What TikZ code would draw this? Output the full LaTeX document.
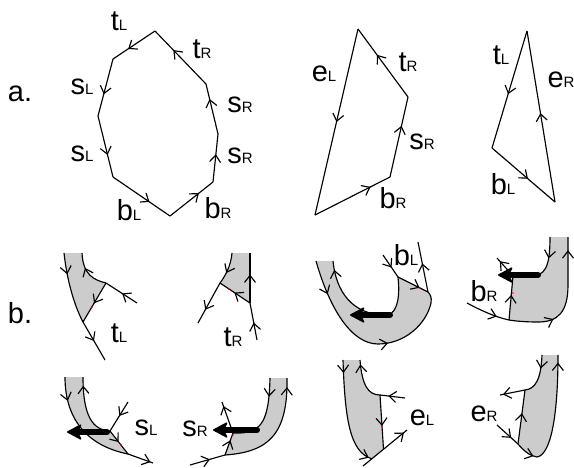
\documentclass[tikz,border=0pt]{standalone}
\usepackage{fontspec}
\setmainfont{Liberation Sans}
\usetikzlibrary{arrows.meta,decorations.markings,calc}
\definecolor{shade}{RGB}{204,204,204}
\newcommand\lb[2]{#1{\fontsize{15}{15}\selectfont #2}}
\begin{document}
\begin{tikzpicture}[x=1pt,y=-1pt,line width=1.15pt,line join=round,
  tipb/.tip={Straight Barb[length=7pt,width=11pt]},
  marr/.style={postaction={decorate,decoration={markings,mark=at position #1 with {\arrow{tipb}}}}},
  rarr/.style={postaction={decorate,decoration={markings,mark=at position #1 with {\arrowreversed{tipb}}}}},
  band/.style={fill=shade,draw=none},
  thk/.style={line width=6pt,line cap=round,-{Stealth[length=16pt,width=17pt,inset=4pt,round,line width=1.5pt]}},
  lab/.style={inner sep=0pt,font=\fontsize{29}{29}\selectfont},
  rdot/.style={fill=red,draw=none}]
\useasboundingbox (0,0) rectangle (574,467);

% ---------- panel a ----------
\node[lab] (pa) at (20,94) {a.};
\coordinate (o1) at (155,31);
\coordinate (o2) at (113,59);
\coordinate (o3) at (98,116);
\coordinate (o4) at (113,177);
\coordinate (o5) at (170,216);
\coordinate (o6) at (213,182);
\coordinate (o7) at (218,134);
\coordinate (o8) at (206,84);
\draw[marr=0.64] (o1) -- (o2);
\draw[marr=0.62] (o2) -- (o3);
\draw[marr=0.64] (o3) -- (o4);
\draw[marr=0.64] (o4) -- (o5);
\draw[marr=0.67] (o5) -- (o6);
\draw[marr=0.58] (o6) -- (o7);
\draw[marr=0.7] (o7) -- (o8);
\draw[marr=0.64] (o8) -- (o1);
\node[lab] (a1) at (119,21.5) {\lb{t}{L}};
\node[lab] (a2) at (202,49) {\lb{t}{R}};
\node[lab] (a3) at (82,87) {\lb{s}{L}};
\node[lab] (a4) at (240,105) {\lb{s}{R}};
\node[lab] (a5) at (82,154) {\lb{s}{L}};
\node[lab] (a6) at (240,156) {\lb{s}{R}};
\node[lab] (a7) at (129,210) {\lb{b}{L}};
\node[lab] (a8) at (218,208) {\lb{b}{R}};

\coordinate (m1) at (358,29);
\coordinate (m2) at (408,97);
\coordinate (m3) at (390,177);
\coordinate (m4) at (315,215);
\draw[marr=0.5] (m1) -- (m4);
\draw[marr=0.74] (m4) -- (m3);
\draw[marr=0.64] (m3) -- (m2);
\draw[marr=0.62] (m2) -- (m1);
\node[lab] (a9) at (324,74) {\lb{e}{L}};
\node[lab] (a10) at (408,62) {\lb{t}{R}};
\node[lab] (a11) at (422,142) {\lb{s}{R}};
\node[lab] (a12) at (393,198) {\lb{b}{R}};

\coordinate (r1) at (527,31);
\coordinate (r2) at (492,148);
\coordinate (r3) at (555,202);
\draw[marr=0.54] (r1) -- (r2);
\draw[marr=0.57] (r2) -- (r3);
\draw[marr=0.52] (r3) -- (r1);
\node[lab] (a13) at (501,55) {\lb{t}{L}};
\node[lab] (a14) at (561,80) {\lb{e}{R}};
\node[lab] (a15) at (503,184) {\lb{b}{L}};

% ---------- panel b ----------
\node[lab] (pb) at (20,313) {b.};

% t_L
\coordinate (tlA) at (64,253);
\coordinate (tlB) at (82,253);
\coordinate (tlJ) at (106,283);
\coordinate (tlK) at (83,322);
\coordinate (tlE1) at (137,303);
\coordinate (tlE2) at (105,360);
\fill[band] (tlA) -- (tlB) .. controls (83,275) and (94,280) .. (tlJ) -- (tlK) .. controls (74,305) and (67,280) .. (tlA) -- cycle;
\draw[marr=0.3] (tlA) .. controls (67,280) and (74,305) .. (tlK);
\draw[marr=0.64] (tlJ) .. controls (94,280) and (83,275) .. (tlB);
\draw[marr=0.48] (tlE1) -- (tlJ);
\draw[marr=0.52] (tlJ) -- (tlK);
\draw[marr=0.5] (tlK) -- (tlE2);
\fill[rdot] (92,307) circle (0.8);
\node[lab] (b1) at (119,333) {\lb{t}{L}};

% t_R
\coordinate (trA) at (232,253);
\coordinate (trB) at (250,253);
\coordinate (trJ) at (220,283);
\coordinate (trK) at (250,303);
\coordinate (trE1) at (198,323);
\coordinate (trE2) at (257,340);
\fill[band] (trA) -- (trB) -- (trK) -- (trJ) .. controls (226,275) and (231,265) .. (trA) -- cycle;
\draw[marr=0.64] (trA) .. controls (231,265) and (226,275) .. (trJ);
\draw[marr=0.67] (trJ) -- (trE1);
\draw[marr=0.57] (trK) -- (trB);
\draw[marr=0.52] (trK) -- (trJ);
\draw[marr=0.47] (trE2) -- (trK);
\fill[rdot] (229,289) circle (0.8);
\node[lab] (b2) at (233,337) {\lb{t}{R}};

% s_L
\coordinate (slA) at (65,377);
\coordinate (slB) at (83,377);
\coordinate (slJ) at (110,431);
\coordinate (slK) at (128,454);
\coordinate (slE1) at (128,402);
\coordinate (slE2) at (153,463);
\fill[band] (slA) -- (slB) .. controls (83,415) and (92,430) .. (slJ) -- (slK) .. controls (88,446) and (65,420) .. (slA) -- cycle;
\draw[marr=0.22] (slA) .. controls (65,420) and (88,446) .. (slK);
\draw[marr=0.87] (slJ) .. controls (92,430) and (83,415) .. (slB);
\draw[marr=0.9] (slK) -- (slE2);
\draw[marr=0.48] (slE1) -- (slJ);
\draw[marr=0.48] (slJ) -- (slK);
\fill[rdot] (121,445) circle (0.8);
\draw[thk] (107,432) -- (67,432);
\node[lab] (b3) at (146,428) {\lb{s}{L}};

% s_R
\coordinate (srA) at (270,378);
\coordinate (srB) at (287,378);
\coordinate (srJ) at (233,433);
\coordinate (srK) at (225,455);
\coordinate (srE1) at (222,402);
\coordinate (srE2) at (190,465);
\fill[band] (srA) -- (srB) .. controls (288,435) and (268,452) .. (srK) -- (srJ) -- (240,433) .. controls (262,432) and (269,420) .. (srA) -- cycle;
\draw[marr=0.24] (srA) .. controls (269,420) and (262,432) .. (240,433) -- (srJ);
\draw[marr=0.92] (srK) .. controls (268,452) and (288,435) .. (srB);
\draw[marr=0.57] (srE2) -- (srK);
\draw[marr=0.67] (srK) -- (srJ);
\draw[marr=0.87] (srJ) -- (srE1);
\fill[rdot] (233,435) circle (0.8);
\draw[thk] (257,430) -- (213,430);
\node[lab] (b4) at (195,429) {\lb{s}{R}};

% b_L
\coordinate (blA) at (316,261);
\coordinate (blB) at (333,261);
\coordinate (blJ) at (398,277);
\coordinate (blR) at (428,292);
\coordinate (blE1) at (383,255);
\coordinate (blE2) at (418,242);
\coordinate (blM) at (378,344);
\fill[band] (blA) -- (blB) .. controls (337,300) and (360,316) .. (388,315) .. controls (398,312) and (400,295) .. (blJ) -- (blR) .. controls (430,294) and (432,297) .. (431,303) .. controls (426,325) and (404,344) .. (blM) .. controls (352,344) and (330,310) .. (blA) -- cycle;
\draw[marr=0.32] (blA) .. controls (330,310) and (352,344) .. (blM);
\draw[marr=0.12] (blM) .. controls (404,344) and (426,325) .. (431,303) .. controls (432,297) and (430,294) .. (blR);
\draw[rarr=0.07] (blB) .. controls (337,300) and (360,316) .. (388,315) .. controls (398,312) and (400,295) .. (blJ);
\draw[marr=0.57] (blE1) -- (blJ);
\draw[marr=0.72] (blJ) -- (blR);
\draw[marr=0.57] (blR) -- (blE2);
\fill[rdot] (420,288) circle (0.8);
\draw[thk] (390,315) -- (350,315);
\node[lab] (b5) at (406,255) {\lb{b}{L}};

% b_R
\coordinate (brA) at (550,237);
\coordinate (brB) at (568,237);
\coordinate (brJ) at (513,276);
\coordinate (brK) at (509,320);
\coordinate (brE1) at (497,258);
\coordinate (brE2) at (467,303);
\fill[band] (brA) -- (brB) -- (568,285) .. controls (568,312) and (558,322) .. (538,322) .. controls (525,322) and (515,321) .. (brK) -- (brJ) -- (530,276) .. controls (545,276) and (550,268) .. (brA) -- cycle;
\draw[marr=0.32] (brA) .. controls (550,268) and (545,276) .. (530,276) -- (brJ);
\draw[marr=0.34,marr=0.9] (brK) .. controls (515,321) and (525,322) .. (538,322) .. controls (558,322) and (568,312) .. (568,285) -- (brB);
\draw[marr=0.72] (brE2) .. controls (480,310) and (495,317) .. (brK);
\draw[marr=0.57] (brK) -- (brJ);
\draw[marr=0.82] (brJ) -- (brE1);
\fill[rdot] (513,293) circle (0.8);
\draw[thk] (538,275) -- (498,275);
\node[lab] (b6) at (484,291) {\lb{b}{R}};

% e_L
\coordinate (elA) at (343,360);
\coordinate (elB) at (360,360);
\coordinate (elJ) at (380,395);
\coordinate (elL1) at (363,466);
\coordinate (elL2) at (407,430);
\coordinate (elE) at (405,398);
\coordinate (elK1) at ($(elL1)!0.2!(elL2)$);
\coordinate (elK2) at ($(elL1)!0.466!(elL2)$);
\fill[band] (elA) -- (elB) .. controls (362,385) and (368,395) .. (elJ) -- (elK2) -- (elK1) .. controls (350,452) and (345,420) .. (elA) -- cycle;
\draw[marr=0.12,marr=0.97] (elA) .. controls (345,420) and (350,452) .. (elK1);
\draw[rarr=0.1] (elB) .. controls (362,385) and (368,395) .. (elJ);
\draw[marr=0.67] (elE) -- (elJ);
\draw[marr=0.57] (elJ) -- (elK2);
\draw[marr=0.93] (elL1) -- (elL2);
\fill[rdot] (382,426) circle (0.8);
\node[lab] (b7) at (422,418) {\lb{e}{L}};

% e_R
\coordinate (erA) at (542,355);
\coordinate (erB) at (558,355);
\coordinate (erJ) at (525,390);
\coordinate (erE) at (500,395);
\coordinate (erK) at (518,444);
\coordinate (erS) at (497,425);
\coordinate (erM) at (537,457);
\fill[band] (erA) -- (erB) .. controls (558,420) and (550,455) .. (erM) .. controls (530,456) and (524,451) .. (erK) -- (erJ) .. controls (535,389) and (541,380) .. (erA) -- cycle;
\draw[marr=0.32] (erA) .. controls (541,380) and (535,389) .. (erJ);
\draw[rarr=0.07] (erB) .. controls (558,420) and (550,455) .. (erM);
\draw[marr=0.88] (erJ) -- (erE);
\draw[marr=0.57] (erK) -- (erJ);
\draw[marr=0.37,marr=0.93] (erS) -- (erK) .. controls (524,451) and (530,456) .. (erM);
\node[lab] (b8) at (484,414) {\lb{e}{R}};
\end{tikzpicture}
\end{document}
